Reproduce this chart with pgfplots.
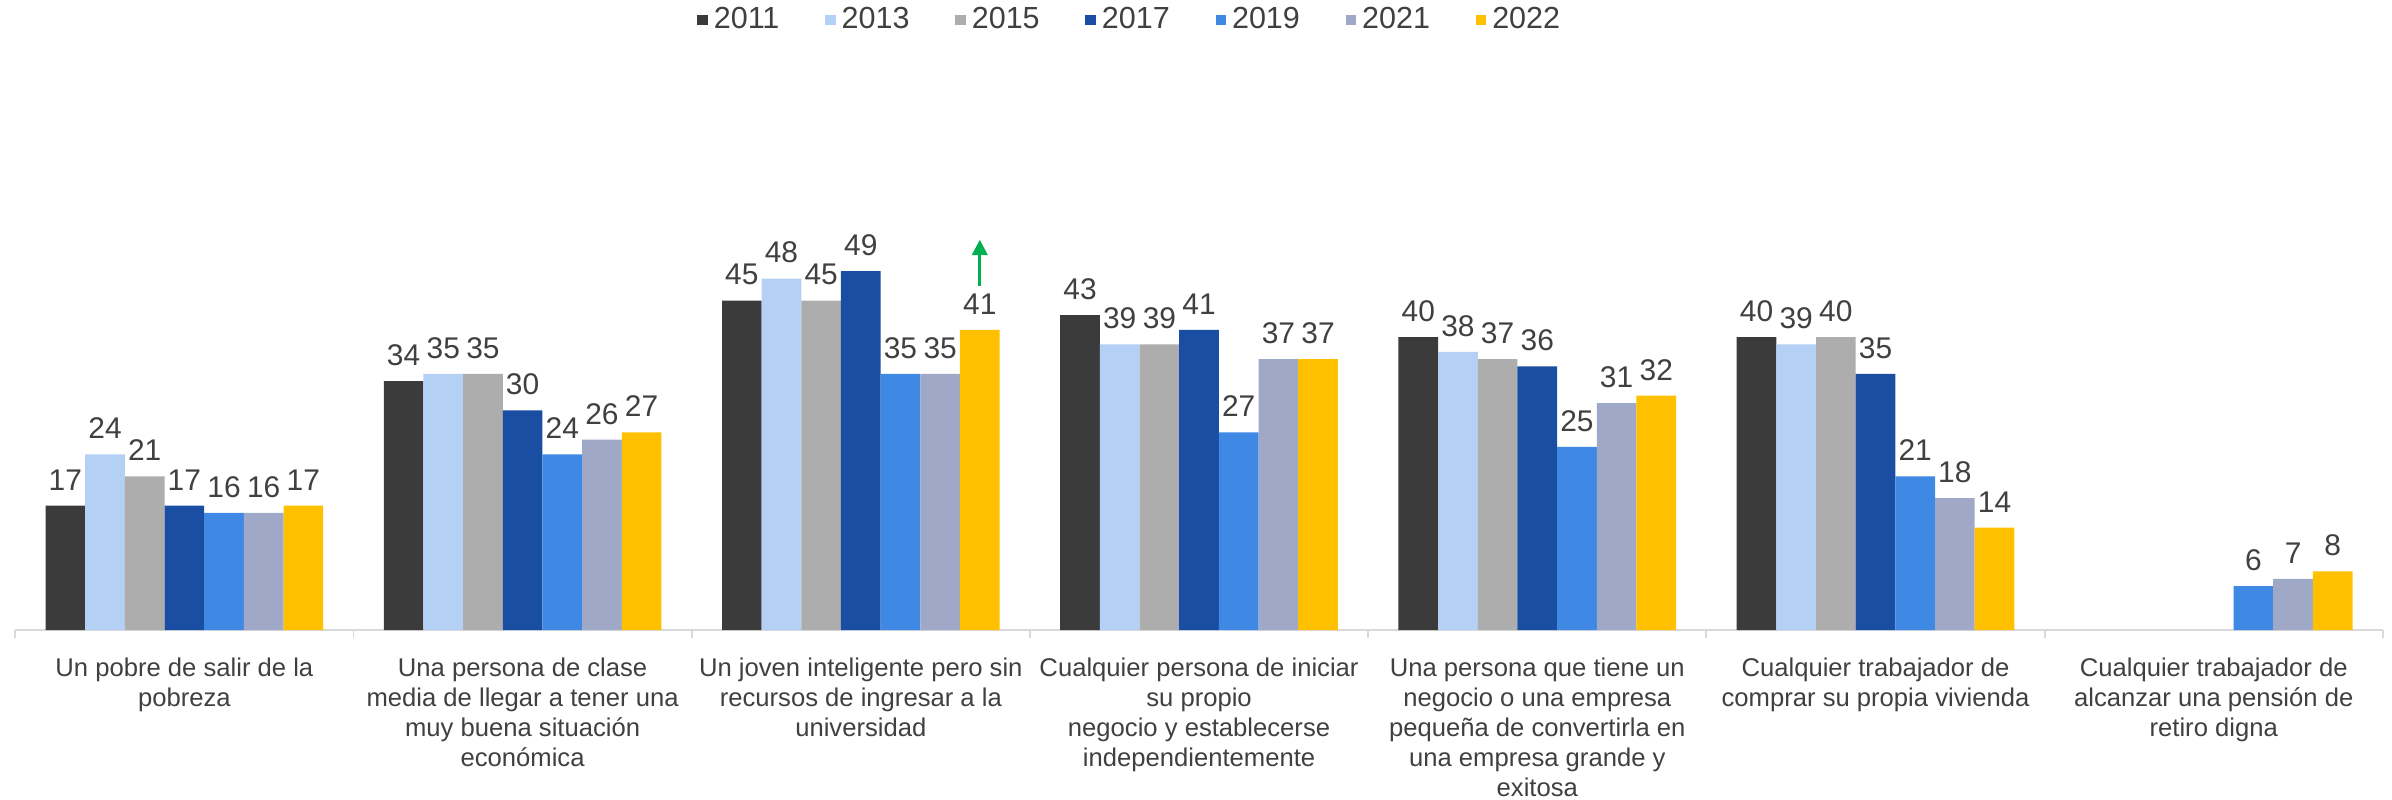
\documentclass[border=0pt]{standalone}
\usepackage{pgfplots}
\pgfplotsset{compat=1.18}
\usepackage{fontspec}
\setmainfont{Liberation Sans}
\usetikzlibrary{arrows.meta}
\definecolor{cA}{HTML}{3B3B3B}
\definecolor{cB}{HTML}{B4D0F5}
\definecolor{cC}{HTML}{ADADAD}
\definecolor{cD}{HTML}{1A4EA2}
\definecolor{cE}{HTML}{3F88E3}
\definecolor{cF}{HTML}{A0A8C8}
\definecolor{cG}{HTML}{FFC000}
\definecolor{txt}{HTML}{404040}
\definecolor{axl}{HTML}{D9D9D9}
\definecolor{arr}{HTML}{00B050}
\begin{document}
\begin{tikzpicture}
\begin{axis}[
  at={(0,0)}, anchor=south west,
  scale only axis, width=776pt, height=192pt,
  xmin=-0.5, xmax=6.5, ymin=0, ymax=80,
  axis x line*=bottom, axis y line=none,
  x axis line style={draw=axl, line width=0.6pt, -},
  /pgf/number format/assume math mode=true,
  xtick={0,...,6},
  xticklabels={
    {Un pobre de salir de la\\pobreza},
    {Una persona de clase\\media de llegar a tener una\\muy buena situación\\económica},
    {Un joven inteligente pero sin\\recursos de ingresar a la\\universidad},
    {Cualquier persona de iniciar\\su propio\\negocio y establecerse\\independientemente},
    {Una persona que tiene un\\negocio o una empresa\\pequeña de convertirla en\\una empresa grande y\\exitosa},
    {Cualquier trabajador de\\comprar su propia vivienda},
    {Cualquier trabajador de\\alcanzar una pensión de\\retiro digna}},
  xticklabel style={align=center, font=\fontsize{8.4}{9.8}\selectfont, text=txt, yshift=-1.5pt},
  major x tick style={draw=none},
  minor xtick={-0.5,0.5,...,6.5},
  minor x tick style={draw=axl, line width=0.6pt},
  tick align=outside, minor tick length=2.7pt,
  ybar=0pt, bar width=13pt,
  nodes near coords,
  every node near coord/.append style={font=\fontsize{9.8}{11}\selectfont, text=txt, yshift=1.5pt},
  legend image code/.code={\fill[#1] (0pt,-1.7pt) rectangle (3.4pt,1.7pt);},
  legend columns=7,
  legend style={draw=none, fill=none, at={(0.4716,1.0417)}, anchor=center,
    font=\fontsize{10}{11}\selectfont, text=txt,
    /tikz/every even column/.append style={column sep=13pt}},
]
\addplot[fill=cA, draw=none] coordinates {(0,17) (1,34) (2,45) (3,43) (4,40) (5,40)};
\addplot[fill=cB, draw=none] coordinates {(0,24) (1,35) (2,48) (3,39) (4,38) (5,39)};
\addplot[fill=cC, draw=none] coordinates {(0,21) (1,35) (2,45) (3,39) (4,37) (5,40)};
\addplot[fill=cD, draw=none] coordinates {(0,17) (1,30) (2,49) (3,41) (4,36) (5,35)};
\addplot[fill=cE, draw=none] coordinates {(0,16) (1,24) (2,35) (3,27) (4,25) (5,21) (6,6)};
\addplot[fill=cF, draw=none] coordinates {(0,16) (1,26) (2,35) (3,37) (4,31) (5,18) (6,7)};
\addplot[fill=cG, draw=none] coordinates {(0,17) (1,27) (2,41) (3,37) (4,32) (5,14) (6,8)};
\legend{2011,2013,2015,2017,2019,2021,2022}
\draw[arr, line width=1pt, -{Triangle[width=5pt,length=5pt]}] ([xshift=39pt]axis cs:2,47) -- ([xshift=39pt]axis cs:2,53.3);
\end{axis}
\pgfresetboundingbox
\path (-5pt,-55.5pt) rectangle (779pt,206.5pt);
\end{tikzpicture}
\end{document}
